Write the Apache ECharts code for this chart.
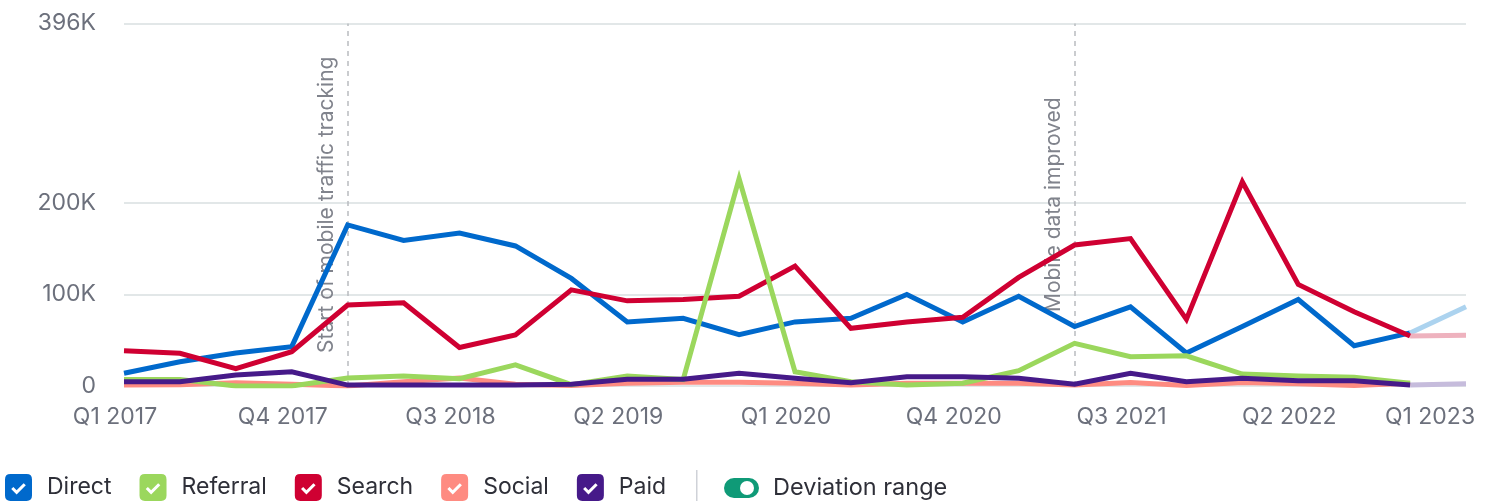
<!DOCTYPE html>
<html>
<head>
<meta charset="utf-8">
<script src="https://cdn.jsdelivr.net/npm/echarts@6/dist/echarts.min.js"></script>
<style>
  html, body { margin: 0; padding: 0; background: #fff; }
  #chart { width: 1495px; height: 501px; }
</style>
</head>
<body>
<div id="chart"></div>
<script>
// quarters, the last one is the forecast point
const quarters = [
  'Q1 2017', 'Q2 2017', 'Q3 2017', 'Q4 2017',
  'Q1 2018', 'Q2 2018', 'Q3 2018', 'Q4 2018',
  'Q1 2019', 'Q2 2019', 'Q3 2019', 'Q4 2019',
  'Q1 2020', 'Q2 2020', 'Q3 2020', 'Q4 2020',
  'Q1 2021', 'Q2 2021', 'Q3 2021', 'Q4 2021',
  'Q1 2022', 'Q2 2022', 'Q3 2022', 'Q4 2022',
  'Q1 2023'
]

// values in thousands
const direct   = [14, 26.5, 36, 43, 176, 159, 167, 153, 117.5, 70, 74, 56, 70, 74, 100, 70, 98, 65, 86.5, 36, 65, 94.5, 44, 58]
const referral = [7, 7, 0, 0, 8.7, 11, 8, 23, 1.5, 11, 7, 226.5, 15.6, 4.7, 1, 3, 16.7, 46.6, 32, 33, 13, 11, 9.5, 3]
const search   = [38.5, 35.7, 19, 37.5, 88.4, 91, 42, 55.7, 105, 93, 94.6, 98, 131, 63, 70, 75, 118.6, 154, 161, 72.8, 223, 111, 81, 54.6]
const social   = [1, 1.5, 3.5, 2, 0, 4.7, 8.7, 2, 0.5, 3, 4, 4, 3, 1, 3, 3, 3, 1, 3.7, 0.5, 3.7, 2.5, 0.5, 3]
const paid     = [4.7, 4.7, 12, 15.6, 1, 1, 1, 1, 1.8, 7.3, 7.3, 13.8, 8.4, 3.6, 10, 10, 8.4, 2, 13.8, 4.7, 8.4, 5.8, 5.8, 1]

// forecast for Q1 2023
const directNext = 86.6
const searchNext = 55.5
const paidNext = 2.5

const yTicks = [0, 100, 200, 396]
const events = [
  { at: 'Q1 2018', text: 'Start of mobile traffic tracking' },
  { at: 'Q2 2021', text: 'Mobile data improved' }
]

const font = 'Inter, "Noto Sans", sans-serif'

// rounded box with a check cut out
const checkIcon = 'path://M20,0 L80,0 Q100,0 100,20 L100,80 Q100,100 80,100 L20,100 Q0,100 0,80 L0,20 Q0,0 20,0 Z ' +
  'M43,76 L77,42 L69,34 L43,60 L31,48 L23,56 Z'

function forecast(arr, next) {
  const out = quarters.map(() => null)
  out[arr.length - 1] = arr[arr.length - 1]
  out[arr.length] = next
  return out
}

function lineSeries(name, data, color, z) {
  return {
    name: name,
    type: 'line',
    data: data,
    z: z,
    showSymbol: false,
    symbol: 'none',
    color: color,
    lineStyle: { width: 5, color: color, join: 'miter' },
    emphasis: { disabled: true }
  }
}

const chart = echarts.init(document.getElementById('chart'))

const option = {
  animation: false,
  textStyle: { fontFamily: font },
  grid: { left: 124, right: 29, top: 23.5, bottom: 115 },
  legend: {
    data: ['Direct', 'Referral', 'Search', 'Social', 'Paid'],
    left: 5,
    top: 474,
    padding: 0,
    icon: checkIcon,
    itemWidth: 27,
    itemHeight: 27,
    itemGap: 28,
    selectedMode: false,
    textStyle: {
      fontFamily: font,
      fontSize: 23,
      color: '#2e2f38',
      padding: [0, 0, 0, 10]
    }
  },
  xAxis: {
    type: 'category',
    data: quarters,
    boundaryGap: false,
    axisLine: { show: false },
    axisTick: { show: false },
    axisLabel: {
      interval: 2,
      margin: 20,
      formatter: (v, i) => i === quarters.length - 1 ? '{last|' + v + '}' : '{n|' + v + '}',
      rich: {
        n: { fontFamily: font, fontSize: 23, color: '#6c707c', padding: [0, 18, 0, 0] },
        last: { fontFamily: font, fontSize: 23, color: '#6c707c', padding: [0, 72, 0, 0] }
      }
    }
  },
  yAxis: {
    type: 'value',
    min: 0,
    max: 396,
    axisLine: { show: false },
    axisTick: { show: false, customValues: yTicks },
    axisLabel: {
      customValues: yTicks,
      margin: 28,
      fontFamily: font,
      fontSize: 23,
      color: '#6c707c',
      formatter: v => v === 0 ? '0' : v + 'K'
    },
    splitLine: { lineStyle: { color: '#e2e7e8', width: 2 } }
  },
  series: [
    {
      name: 'events',
      type: 'line',
      data: [],
      z: 1,
      markLine: {
        z: 1,
        silent: true,
        symbol: 'none',
        lineStyle: { type: [5, 5], color: '#b9bcc0', width: 1.5 },
        label: {
          show: true,
          position: 'insideMiddleTop',
          distance: 10,
          fontFamily: font,
          fontSize: 21,
          color: '#80838c',
          formatter: p => p.name
        },
        data: events.map(e => ({ name: e.text, xAxis: e.at }))
      }
    },
    lineSeries('Direct', direct, '#0069cc', 2),
    lineSeries('Social', social, '#fe8b81', 3),
    lineSeries('Search', search, '#cf0032', 4),
    lineSeries('Referral', referral, '#9bd75d', 5),
    lineSeries('Paid', paid, '#461a89', 6),
    lineSeries('Direct forecast', forecast(direct, directNext), '#acd3ef', 2),
    lineSeries('Search forecast', forecast(search, searchNext), '#eeb2be', 2),
    lineSeries('Paid forecast', forecast(paid, paidNext), '#c6bcdc', 2)
  ],
  graphic: [
    {
      type: 'rect',
      left: 696,
      top: 470,
      shape: { width: 1.5, height: 31 },
      style: { fill: '#cfd2d8' }
    },
    {
      type: 'rect',
      left: 724,
      top: 478,
      shape: { width: 35, height: 20, r: 10 },
      style: { fill: '#0f9a77' }
    },
    {
      type: 'circle',
      left: 740,
      top: 481,
      shape: { r: 7 },
      style: { fill: '#ffffff' }
    },
    {
      type: 'text',
      left: 773,
      top: 476,
      style: { text: 'Deviation range', fontFamily: font, fontSize: 23.5, fill: '#2e2f38' }
    }
  ]
}

chart.setOption(option)

window.addEventListener('resize', () => {
  chart.resize()
})
</script>
</body>
</html>
